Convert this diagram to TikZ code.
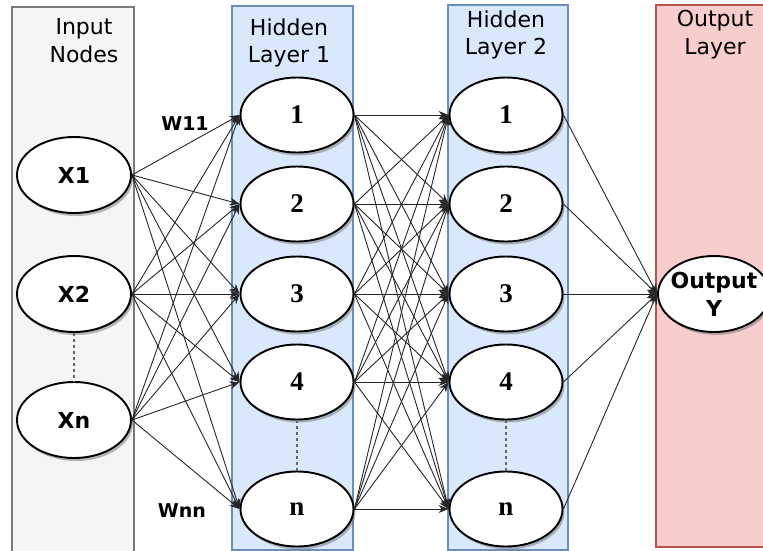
\documentclass[tikz,border=0pt]{standalone}
\usepackage{fontspec}
\setmainfont{DejaVu Sans}
\newfontfamily\numfont{Liberation Serif}
\usetikzlibrary{shapes.geometric,arrows.meta,shadows}

\definecolor{inFill}{HTML}{F5F5F5}
\definecolor{inLine}{HTML}{7A7A7A}
\definecolor{hidFill}{HTML}{DAE8FC}
\definecolor{hidLine}{HTML}{6C8EBF}
\definecolor{outFill}{HTML}{F8CECC}
\definecolor{outLine}{HTML}{B85450}

\tikzset{
  layerbox/.style={line width=1.2pt},
  layertitle/.style={anchor=base, inner sep=0pt, text=black, font=\fontsize{22}{26}\selectfont},
  neuron/.style={ellipse, draw=black, line width=1.9pt, fill=white,
    minimum width=113pt, minimum height=75pt, inner sep=0pt,
    drop shadow={shadow xshift=2pt, shadow yshift=-3pt, opacity=0.5, fill=black!55}},
  inlabel/.style={font=\bfseries\fontsize{22}{28}\selectfont},
  hidlabel/.style={font=\numfont\bfseries\fontsize{27}{30}\selectfont},
  weight/.style={inner sep=0pt, font=\bfseries\fontsize{19}{22}\selectfont},
  link/.style={draw=black!85, line width=0.9pt, -{Stealth[length=10pt,width=8pt]}},
  gap/.style={draw=black!60, line width=1.1pt, dash pattern=on 3pt off 3pt}
}

\begin{document}
\begin{tikzpicture}[x=1pt, y=-1pt]
  \useasboundingbox (0,0) rectangle (763,551);
  \clip (0,0) rectangle (763,551);

  % layer panels
  \draw[layerbox, draw=inLine, fill=inFill] (12,7) rectangle (134,570);
  \draw[layerbox, draw=hidLine, fill=hidFill] (232,6) rectangle (353,550);
  \draw[layerbox, draw=hidLine, fill=hidFill] (448,5) rectangle (568,550);
  \draw[layerbox, draw=outLine, fill=outFill] (656,5) rectangle (790,547);

  % panel titles
  \node[layertitle] (tin1) at (84,35) {Input};
  \node[layertitle] (tin2) at (84,63) {Nodes};
  \node[layertitle] (th11) at (289,36) {Hidden};
  \node[layertitle] (th12) at (289,63) {Layer 1};
  \node[layertitle] (th21) at (506,28) {Hidden};
  \node[layertitle] (th22) at (506,55) {Layer 2};
  \node[layertitle] (tout1) at (715,27) {Output};
  \node[layertitle] (tout2) at (715,55) {Layer};

  % input nodes
  \node[neuron, minimum width=114pt, minimum height=76pt, inlabel] (x1) at (74,175) {X1};
  \node[neuron, minimum width=114pt, minimum height=76pt, inlabel] (x2) at (74,294) {X2};
  \node[neuron, minimum width=114pt, minimum height=76pt, inlabel] (xn) at (74,420) {Xn};

  % hidden layer 1
  \node[neuron, hidlabel] (a1) at (297,115) {1};
  \node[neuron, hidlabel] (a2) at (297,204) {2};
  \node[neuron, hidlabel] (a3) at (297,294) {3};
  \node[neuron, hidlabel] (a4) at (297,382) {4};
  \node[neuron, hidlabel] (an) at (297,509) {n};

  % hidden layer 2
  \node[neuron, hidlabel] (b1) at (506,115) {1};
  \node[neuron, hidlabel] (b2) at (506,204) {2};
  \node[neuron, hidlabel] (b3) at (506,294) {3};
  \node[neuron, hidlabel] (b4) at (506,382) {4};
  \node[neuron, hidlabel] (bn) at (506,509) {n};

  % output node
  \node[neuron, minimum width=112pt, minimum height=76pt] (out) at (714,294) {};
  \node[inlabel, align=center, inner sep=0pt] (outtxt) at (out.center) {Output\\Y};

  % elided neurons
  \draw[gap] (x2.south) -- (xn.north);
  \draw[gap] (a4.south) -- (an.north);
  \draw[gap] (b4.south) -- (bn.north);

  % full connections
  \foreach \s in {x1,x2,xn}
    \foreach \t in {a1,a2,a3,a4,an}
      \draw[link] (\s.east) -- (\t.west);
  \foreach \s in {a1,a2,a3,a4,an}
    \foreach \t in {b1,b2,b3,b4,bn}
      \draw[link] (\s.east) -- (\t.west);
  \foreach \s in {b1,b2,b3,b4,bn}
    \draw[link] (\s.east) -- (out.west);

  % weight labels
  \node[weight] (w11) at (185,124) {W11};
  \node[weight] (wnn) at (182,511) {Wnn};
\end{tikzpicture}
\end{document}
